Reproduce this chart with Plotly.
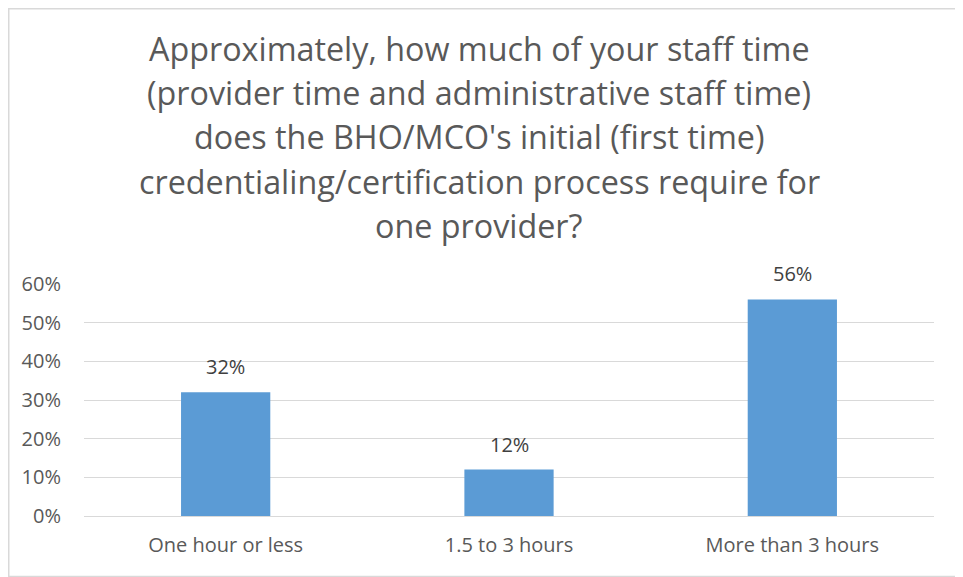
import plotly.graph_objects as go

categories = ["One hour or less", "1.5 to 3 hours", "More than 3 hours"]
shares = [0.32, 0.12, 0.56]
title_lines = [
    "Approximately, how much of your staff time",
    "(provider time and administrative staff time)",
    "does the BHO/MCO's initial (first time)",
    "credentialing/certification process require for",
    "one provider?",
]
y_ticks = [0, 0.1, 0.2, 0.3, 0.4, 0.5, 0.6]

# page adds an 8px body margin, so the figure is 8px smaller than the window
W, H = 955, 569
L, R, T, B = 76, 29, 276, 61
FONT = "Open Sans, Calibri, sans-serif"
GREY = "#595959"

fig = go.Figure(
    go.Bar(
        x=categories,
        y=shares,
        marker=dict(color="#5b9bd5", line=dict(width=0)),
        width=0.315,
        hoverinfo="skip",
    )
)

# data labels above each bar
for cat, val in zip(categories, shares):
    fig.add_annotation(
        x=cat, y=val, text=f"{val:.0%}", showarrow=False,
        yanchor="bottom", yshift=10, font=dict(size=20, color="#404040", family=FONT),
    )

plot_w = W - L - R
plot_h = H - T - B

# title, one annotation per line to get the wide Excel line spacing
for i, line in enumerate(title_lines):
    ypix = 40 + i * 44.2
    fig.add_annotation(
        text=line, xref="paper", yref="paper", x=(471 - L) / plot_w,
        y=(H - B - ypix) / plot_h, showarrow=False, xanchor="center", yanchor="middle",
        font=dict(size=32.3, color=GREY, family=FONT),
    )

# chart area border
fig.add_shape(
    type="rect", xref="paper", yref="paper",
    x0=(0.75 - L) / plot_w, x1=(950 - L) / plot_w,
    y0=(H - B - 568.5) / plot_h, y1=(H - B - 0.75) / plot_h,
    line=dict(color="#d9d9d9", width=1.5), fillcolor="rgba(0,0,0,0)", layer="below",
)

fig.update_yaxes(
    range=[0, 0.6], tickvals=y_ticks, tickformat=".0%",
    showgrid=True, gridcolor="#d9d9d9", gridwidth=1.3, zeroline=False,
    showline=False, ticks="", ticklabelstandoff=22,
    tickfont=dict(size=20, color=GREY, family=FONT),
)
fig.update_xaxes(
    showline=True, linecolor="#d9d9d9", linewidth=1.3, ticks="",
    ticklabelstandoff=11, tickfont=dict(size=20, color=GREY, family=FONT),
)
fig.update_layout(
    width=W, height=H,
    margin=dict(l=L, r=R, t=T, b=B, pad=0),
    plot_bgcolor="white", paper_bgcolor="white",
    showlegend=False,
)

fig.write_html("out.html")
